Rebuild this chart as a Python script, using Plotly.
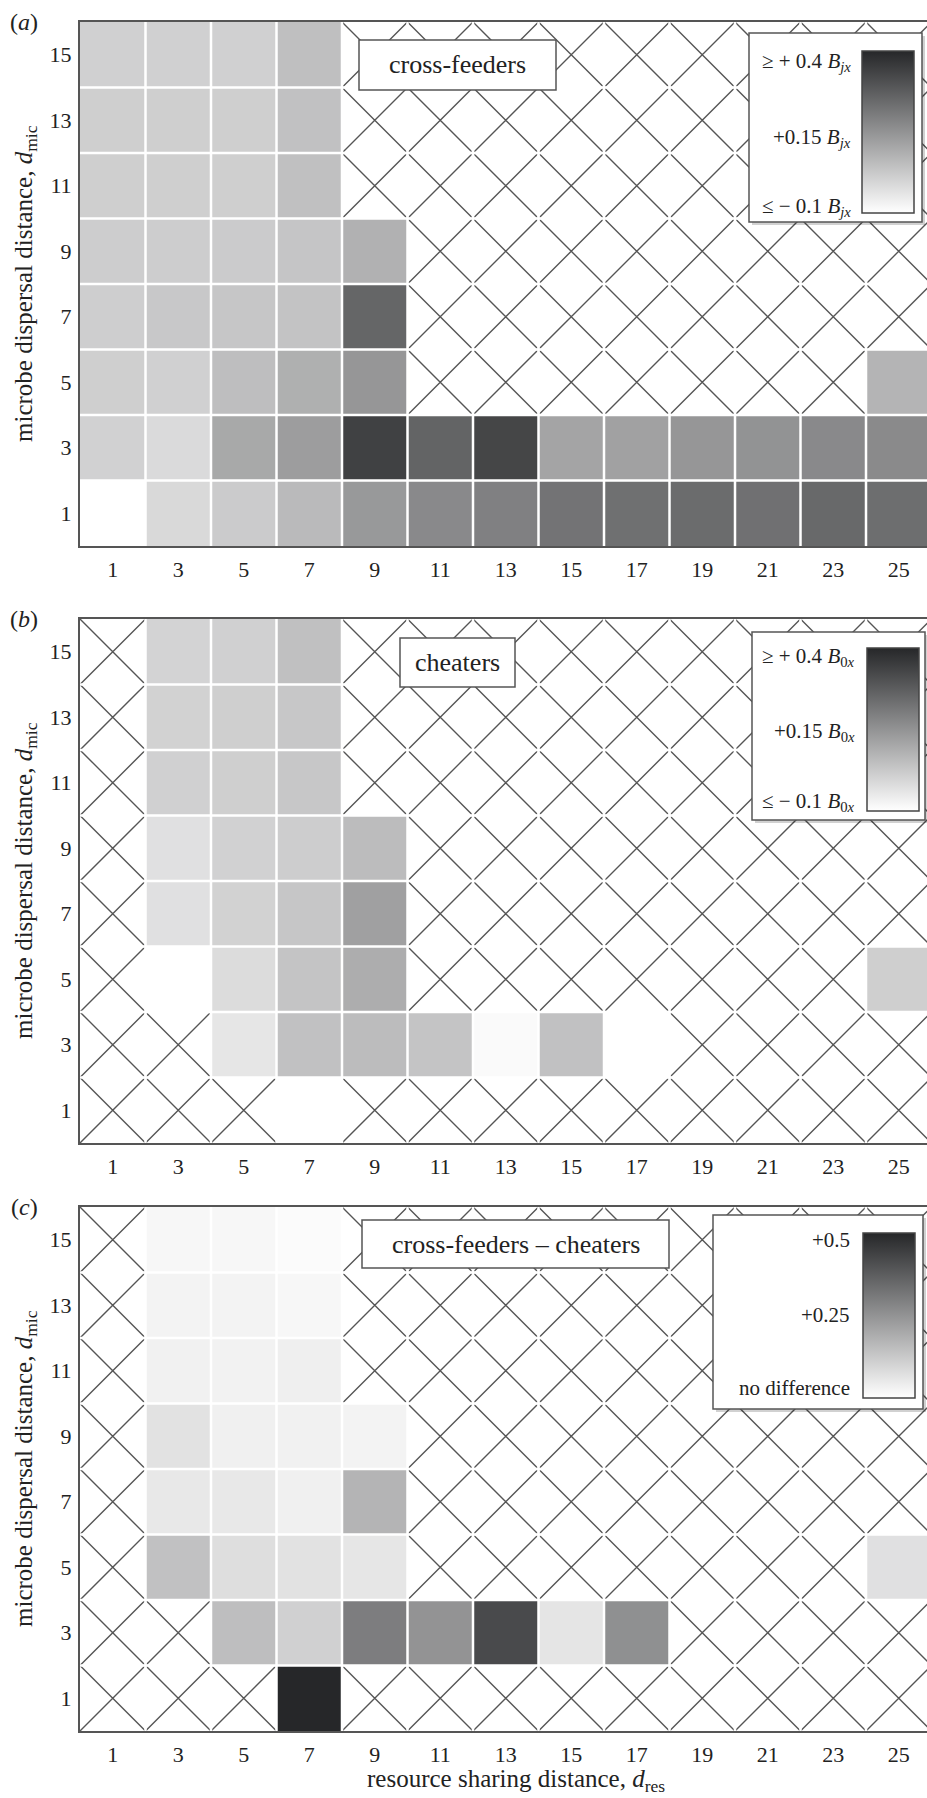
import plotly.graph_objects as go

# ---- data -----------------------------------------------------------------
N = None
d_res = [1, 3, 5, 7, 9, 11, 13, 15, 17, 19, 21, 23, 25]
d_mic = [1, 3, 5, 7, 9, 11, 13, 15]

# rows listed from d_mic = 15 (top) down to d_mic = 1 (bottom); None = no data
cross_feeders = [
    [0.008, 0.008, 0.008, 0.047, N, N, N, N, N, N, N, N, N],
    [0.011, 0.011, 0.011, 0.043, N, N, N, N, N, N, N, N, N],
    [0.011, 0.011, 0.011, 0.045, N, N, N, N, N, N, N, N, N],
    [0.015, 0.015, 0.020, 0.034, 0.080, N, N, N, N, N, N, N, N],
    [0.013, 0.027, 0.031, 0.038, 0.255, N, N, N, N, N, N, N, N],
    [0.011, 0.008, 0.050, 0.084, 0.142, N, N, N, N, N, N, N, 0.073],
    [0.006, -0.015, 0.100, 0.126, 0.340, 0.259, 0.329, 0.110, 0.117, 0.142, 0.151, 0.172, 0.170],
    [-0.100, -0.012, 0.020, 0.059, 0.137, 0.172, 0.193, 0.223, 0.232, 0.241, 0.230, 0.248, 0.236],
]
cheaters = [
    [N, 0.001, 0.008, 0.045, N, N, N, N, N, N, N, N, N],
    [N, 0.004, 0.011, 0.029, N, N, N, N, N, N, N, N, N],
    [N, 0.008, 0.011, 0.029, N, N, N, N, N, N, N, N, N],
    [N, -0.029, 0.006, 0.015, 0.054, N, N, N, N, N, N, N, N],
    [N, -0.029, 0.004, 0.031, 0.119, N, N, N, N, N, N, N, N],
    [N, -0.100, -0.019, 0.036, 0.089, N, N, N, N, N, N, N, 0.011],
    [N, N, -0.042, 0.043, 0.054, 0.036, -0.088, 0.043, -0.100, N, N, N, N],
    [N, N, N, -0.100, N, N, N, N, N, N, N, N, N],
]
difference = [
    [N, 0.018, 0.018, 0.009, N, N, N, N, N, N, N, N, N],
    [N, 0.028, 0.028, 0.018, N, N, N, N, N, N, N, N, N],
    [N, 0.032, 0.030, 0.037, N, N, N, N, N, N, N, N, N],
    [N, 0.067, 0.035, 0.032, 0.028, N, N, N, N, N, N, N, N],
    [N, 0.053, 0.053, 0.035, 0.173, N, N, N, N, N, N, N, N],
    [N, 0.143, 0.076, 0.067, 0.058, N, N, N, N, N, N, N, 0.071],
    [N, N, 0.150, 0.108, 0.300, 0.249, 0.419, 0.060, 0.258, N, N, N, N],
    [N, N, N, 0.500, N, N, N, N, N, N, N, N, N],
]

panel_letters = ["a", "b", "c"]
panel_titles = ["cross-feeders", "cheaters", "cross-feeders \u2013 cheaters"]
z_ranges = [(-0.1, 0.4), (-0.1, 0.4), (0.0, 0.5)]
scale_labels = [
    ["\u2265 + 0.4 <i>B</i><sub><i>jx</i></sub>",
     "+0.15 <i>B</i><sub><i>jx</i></sub>",
     "\u2264 \u2212 0.1 <i>B</i><sub><i>jx</i></sub>"],
    ["\u2265 + 0.4 <i>B</i><sub>0<i>x</i></sub>",
     "+0.15 <i>B</i><sub>0<i>x</i></sub>",
     "\u2264 \u2212 0.1 <i>B</i><sub>0<i>x</i></sub>"],
    ["+0.5", "+0.25", "no difference"],
]

# ---- geometry (pixels) ----------------------------------------------------
W, H = 927, 1798
ML = 80
PW = W - ML
UNIT = 32.75                      # pixels per unit of distance (cells are square)
panel_top = [22, 619, 1207]
PANEL_H = 16 * UNIT

label_box = [(359, 40, 556, 90), (400, 638, 515, 687), (362, 1220, 669, 1268)]
legend_box = [(749, 33, 922, 222), (752, 632, 925, 820), (713, 1215, 923, 1409)]
bar_pos = [(862, 51, 162), (867, 648, 163), (863, 1233, 165)]   # left, top, length
label_rows = [(62, 138, 207), (657, 732, 802), (1240, 1315, 1388)]
label_right = [853, 857, 852]

FONT = "Liberation Serif"
TXT = "#222222"
LINE = "#555555"
colorscale = [[0.0, "#ffffff"], [1.0, "#262729"]]


def fx(px):
    return (px - ML) / PW


def fy(py):
    return 1 - py / H


x_edges = [v - 1 for v in d_res] + [d_res[-1] + 1]
y_edges = [v - 1 for v in d_mic] + [d_mic[-1] + 1]
x0, x1 = x_edges[0], x_edges[-1]
y0, y1 = y_edges[0], y_edges[-1]
step = x_edges[1] - x_edges[0]


def hatch_path():
    segs = []
    # lines x - y = c
    c = x0 - y1
    while c <= x1 - y0:
        ya, yb = max(y0, x0 - c), min(y1, x1 - c)
        if yb > ya:
            segs.append(f"M{ya + c},{ya} L{yb + c},{yb}")
        c += step
    # lines x + y = c
    c = x0 + y0
    while c <= x1 + y1:
        xa, xb = max(x0, c - y1), min(x1, c - y0)
        if xb > xa:
            segs.append(f"M{xa},{c - xa} L{xb},{c - xb}")
        c += step
    return " ".join(segs)


def grid_path():
    segs = [f"M{x},{y0} L{x},{y1}" for x in x_edges[1:]]
    segs += [f"M{x0},{y} L{x1},{y}" for y in y_edges[1:-1]]
    return " ".join(segs)


fig = go.Figure()
shapes, annotations = [], []
xr_max = PW / UNIT

for i, rows in enumerate([cross_feeders, cheaters, difference]):
    sfx = "" if i == 0 else str(i + 1)
    xa, ya = "x" + sfx, "y" + sfx
    zmin, zmax = z_ranges[i]
    top = panel_top[i]
    bl, bt, blen = bar_pos[i]

    fig.add_trace(go.Heatmap(
        x=d_res, y=d_mic, z=rows[::-1], zmin=zmin, zmax=zmax,
        colorscale=colorscale, xaxis=xa, yaxis=ya, hoverinfo="skip",
        colorbar=dict(x=fx(bl), xanchor="left", y=fy(bt), yanchor="top",
                      len=blen, lenmode="pixels", thickness=52,
                      thicknessmode="pixels", xpad=0, ypad=0,
                      outlinecolor="#444444", outlinewidth=1.5,
                      showticklabels=False, ticks="", borderwidth=0),
    ))

    dom = [fy(top + PANEL_H), fy(top)]
    fig.layout["xaxis" + sfx] = dict(
        domain=[0, 1], range=[0, xr_max], anchor=ya, tickvals=d_res,
        showline=True, linecolor=LINE, linewidth=2, mirror=True, ticks="",
        showgrid=False, zeroline=False, ticklabelstandoff=3,
        tickfont=dict(family=FONT, size=22, color=TXT), fixedrange=True)
    fig.layout["yaxis" + sfx] = dict(
        domain=dom, range=[y0, y1], anchor=xa, tickvals=d_mic,
        showline=True, linecolor=LINE, linewidth=2, mirror=False, ticks="",
        showgrid=False, zeroline=False, ticklabelstandoff=2,
        tickfont=dict(family=FONT, size=22, color=TXT), fixedrange=True)

    # cross-hatching for cells without data, white cell separators on top
    shapes.append(dict(type="path", path=hatch_path(), xref=xa, yref=ya,
                       layer="below", line=dict(color="#555555", width=1.4)))
    shapes.append(dict(type="path", path=grid_path(), xref=xa, yref=ya,
                       layer="above", line=dict(color="#ffffff", width=2.5)))

    # panel title box
    l, t, r, b = label_box[i]
    shapes.append(dict(type="rect", xref="paper", yref="paper",
                       x0=fx(l), x1=fx(r), y0=fy(b), y1=fy(t), layer="above",
                       fillcolor="#ffffff", line=dict(color=LINE, width=1.5)))
    annotations.append(dict(text=panel_titles[i], xref="paper", yref="paper",
                            x=fx((l + r) / 2), y=fy((t + b) / 2),
                            xanchor="center", yanchor="middle", showarrow=False,
                            font=dict(family=FONT, size=26, color=TXT)))

    # colour-scale key box with a soft shadow
    l, t, r, b = legend_box[i]
    shapes.append(dict(type="rect", xref="paper", yref="paper",
                       x0=fx(l + 3), x1=fx(r + 3), y0=fy(b + 3), y1=fy(t + 3),
                       layer="above", fillcolor="rgba(0,0,0,0.18)",
                       line=dict(width=0)))
    shapes.append(dict(type="rect", xref="paper", yref="paper",
                       x0=fx(l), x1=fx(r), y0=fy(b), y1=fy(t), layer="above",
                       fillcolor="#ffffff", line=dict(color=LINE, width=1.5)))
    for txt, yy in zip(scale_labels[i], label_rows[i]):
        annotations.append(dict(text=txt, xref="paper", yref="paper",
                                x=fx(label_right[i]), y=fy(yy), xanchor="right",
                                yanchor="middle", showarrow=False,
                                font=dict(family=FONT, size=21, color=TXT)))

    # panel letter and y-axis title
    annotations.append(dict(text=f"(<i>{panel_letters[i]}</i>)", xref="paper",
                            yref="paper", x=fx(24), y=fy(top), xanchor="center",
                            yanchor="middle", showarrow=False,
                            font=dict(family=FONT, size=24, color=TXT)))
    annotations.append(dict(text="microbe dispersal distance, <i>d</i><sub>mic</sub>",
                            xref="paper", yref="paper", x=fx(25),
                            y=fy(top + PANEL_H / 2), xanchor="center",
                            yanchor="middle", textangle=-90, showarrow=False,
                            font=dict(family=FONT, size=25, color=TXT)))

annotations.append(dict(text="resource sharing distance, <i>d</i><sub>res</sub>",
                        xref="paper", yref="paper", x=fx(516), y=fy(1780),
                        xanchor="center", yanchor="middle", showarrow=False,
                        font=dict(family=FONT, size=25, color=TXT)))

fig.update_layout(
    width=W, height=H, margin=dict(l=ML, r=0, t=0, b=0),
    paper_bgcolor="#ffffff", plot_bgcolor="rgba(0,0,0,0)",
    shapes=shapes, annotations=annotations, showlegend=False,
    font=dict(family=FONT, color=TXT),
)

fig.write_html("out.html")
